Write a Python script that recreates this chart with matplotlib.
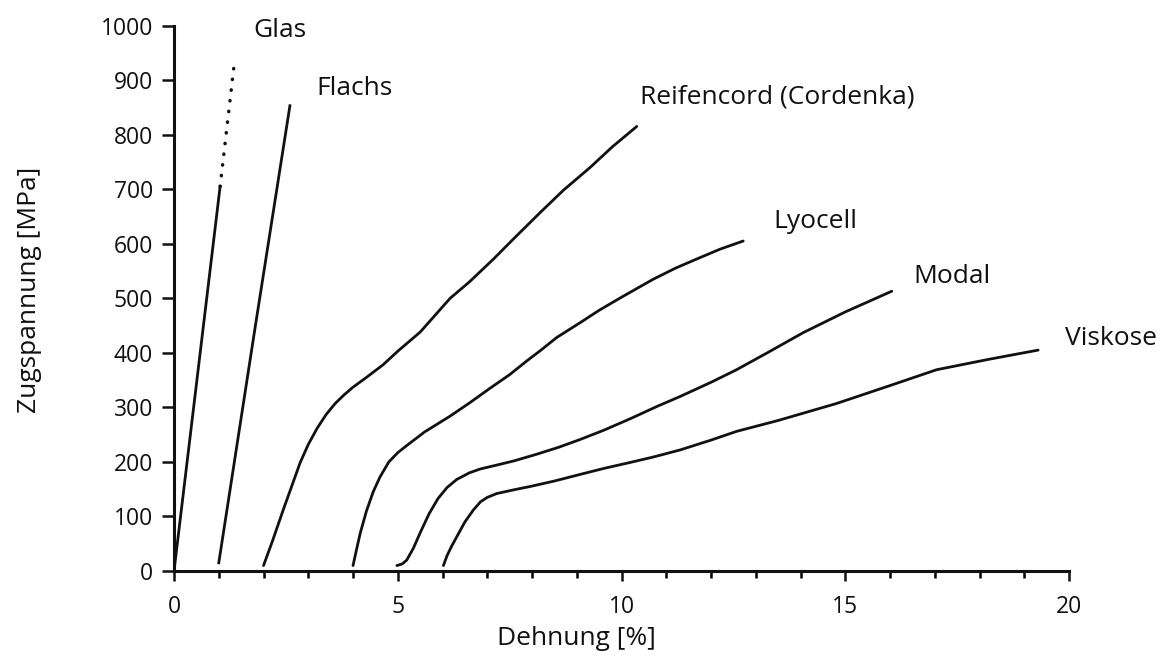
import matplotlib.pyplot as plt
from matplotlib.ticker import MultipleLocator

plt.rcParams['font.family'] = ['Open Sans', 'DejaVu Sans']

# Spannungs-Dehnungs-Kurven
glas_x = [0.0, 1.03]
glas_y = [0, 705]
glas_dot_x = [1.03, 1.36]
glas_dot_y = [705, 940]

flachs_x = [1.0, 1.8, 2.59]
flachs_y = [15, 440, 853]

reifen_x = [2.0, 2.2, 2.44, 2.65, 2.82, 3.0, 3.2, 3.4, 3.6, 3.8, 4.0, 4.3, 4.67, 5.0, 5.5,
            6.17, 6.6, 7.14, 7.6, 8.18, 8.7, 9.3, 9.8, 10.34]
reifen_y = [10, 55, 112, 160, 199, 232, 262, 287, 307, 323, 337, 355, 378, 403, 438,
            500, 530, 572, 610, 657, 698, 740, 778, 815]

lyocell_x = [4.0, 4.08, 4.16, 4.3, 4.45, 4.6, 4.8, 5.0, 5.2, 5.6, 6.17, 6.6, 7.06, 7.5,
             7.88, 8.2, 8.55, 9.07, 9.5, 10.0, 10.71, 11.2, 11.68, 12.2, 12.72]
lyocell_y = [10, 40, 69, 110, 145, 172, 200, 217, 230, 255, 284, 308, 335, 360,
             385, 405, 428, 455, 478, 502, 535, 555, 572, 590, 605]

modal_x = [4.98, 5.1, 5.2, 5.35, 5.5, 5.7, 5.9, 6.1, 6.32, 6.6, 6.84, 7.2, 7.6, 8.1, 8.6,
           9.07, 9.6, 10.19, 10.8, 11.31, 12.0, 12.57, 13.3, 14.06, 15.0, 16.04]
modal_y = [10, 13, 20, 42, 70, 105, 133, 153, 168, 180, 187, 194, 202, 214, 227,
           241, 258, 279, 302, 320, 346, 369, 402, 437, 475, 513]

viskose_x = [6.02, 6.1, 6.2, 6.32, 6.5, 6.69, 6.85, 7.0, 7.21, 7.6, 7.96, 8.5, 9.07, 9.6,
             10.19, 10.71, 11.31, 12.0, 12.57, 13.5, 14.8, 16.0, 17.04, 18.2, 19.31]
viskose_y = [10, 28, 45, 63, 90, 112, 127, 135, 142, 149, 155, 165, 177, 188,
             199, 209, 222, 240, 256, 276, 307, 340, 369, 388, 405]

labels = ['Glas', 'Flachs', 'Reifencord (Cordenka)', 'Lyocell', 'Modal', 'Viskose']
label_x = [1.77, 3.17, 10.41, 13.39, 16.52, 19.91]
label_y = [990, 884, 869, 641, 540, 426]

fig = plt.figure(figsize=(11.64, 6.55), dpi=100)
ax = fig.add_axes([0.1495, 0.1282, 0.7689, 0.8328])

lw = 2.0
ax.plot(glas_x, glas_y, color='#111111', lw=lw)
ax.plot(glas_dot_x, glas_dot_y, color='#111111', lw=2.5, linestyle=(0, (0.1, 3.0)),
        dash_capstyle='round')
ax.plot(flachs_x, flachs_y, color='#111111', lw=lw)
for xs, ys in [(reifen_x, reifen_y), (lyocell_x, lyocell_y),
               (modal_x, modal_y), (viskose_x, viskose_y)]:
    ax.plot(xs, ys, color='#111111', lw=lw, solid_capstyle='round',
            solid_joinstyle='round')

for t, x, y in zip(labels, label_x, label_y):
    ax.text(x, y, t, fontsize=19, va='center', ha='left', clip_on=False, color='#111111')

ax.set_xlim(0, 20)
ax.set_ylim(0, 1000)
ax.xaxis.set_major_locator(MultipleLocator(5))
ax.xaxis.set_minor_locator(MultipleLocator(1))
ax.yaxis.set_major_locator(MultipleLocator(100))

for s in ['top', 'right']:
    ax.spines[s].set_visible(False)
for s in ['left', 'bottom']:
    ax.spines[s].set_linewidth(2.2)
    ax.spines[s].set_color('#111111')

ax.tick_params(axis='y', which='major', direction='out', length=9, width=1.8,
               labelsize=16.5, pad=6, colors='#111111')
ax.tick_params(axis='x', which='major', direction='out', length=7, width=1.8,
               labelsize=16.5, pad=10, colors='#111111')
ax.tick_params(axis='x', which='minor', direction='out', length=5, width=1.8)

ax.set_xlabel('Dehnung [%]', fontsize=19, color='#111111')
ax.set_ylabel('Zugspannung [MPa]', fontsize=19, color='#111111')
ax.xaxis.set_label_coords(9.0 / 20, -0.1)
ax.yaxis.set_label_coords(-0.148, 0.515)

fig.savefig('out.png', dpi=100)
